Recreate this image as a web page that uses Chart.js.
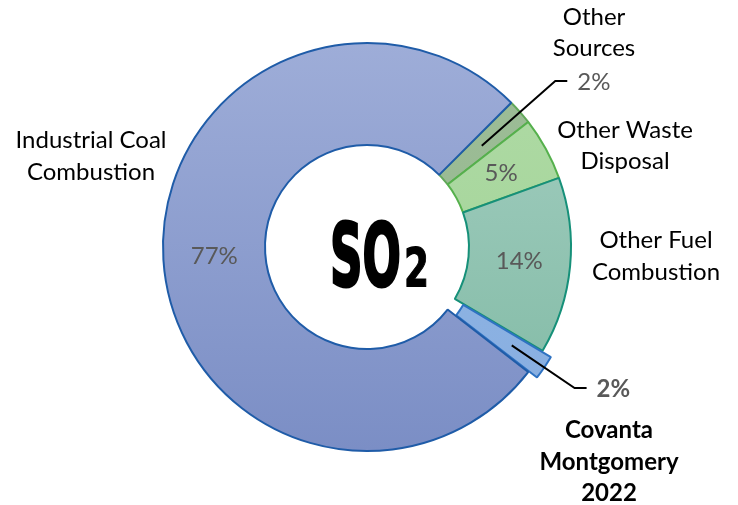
<!DOCTYPE html>
<html>
<head>
<meta charset="utf-8">
<script src="https://cdn.jsdelivr.net/npm/chart.js@4.4.1/dist/chart.umd.min.js"></script>
<style>
  html, body { margin: 0; padding: 0; background: #fff; }
</style>
</head>
<body>
<canvas id="so2Chart" width="738" height="505"></canvas>
<script>
const categories = ["Other Sources", "Other Waste Disposal", "Other Fuel Combustion", "Covanta Montgomery 2022", "Industrial Coal Combustion"]
const shares = [2, 5, 14, 2, 77]
const labelLines = [["Other", "Sources"], ["Other Waste", "Disposal"], ["Other Fuel", "Combustion"], ["Covanta", "Montgomery", "2022"], ["Industrial Coal", "Combustion"]]
const explode = [0, 0, 0, 22, 0]

const RADIUS = 204
const LABEL_FONT = "Lato, 'Open Sans', sans-serif"

// gradient fills top -> bottom of the ring
const fills = [
  ["#9dbd97", "#94b78e"],
  ["#b0dba6", "#9ed193"],
  ["#a5cfc2", "#7fb9a3"],
  ["#95b9e6", "#86ade0"],
  ["#9eadd8", "#7b8ec5"],
]
const borders = ["#62a85a", "#55b04c", "#169079", "#2e72c2", "#1f5ca8"]

function ringGradient(context) {
  const chart = context.chart
  const area = chart.chartArea
  const pair = fills[context.dataIndex]
  if (!area) return pair[0]
  const cy = (area.top + area.bottom) / 2
  const g = chart.ctx.createLinearGradient(0, cy - RADIUS, 0, cy + RADIUS)
  g.addColorStop(0, pair[0])
  g.addColorStop(1, pair[1])
  return g
}

// where each category name sits, relative to the ring centre
const namePlacement = [
  { dx: 227, dy: [-230, -199], bold: false },
  { dx: 258, dy: [-117, -86], bold: false },
  { dx: 289, dy: [-7, 25], bold: false },
  { dx: 242, dy: [183, 215, 246], bold: true },
  { dx: -276, dy: [-107, -75], bold: false },
]
// small slices get their percent outside with a leader line
const leader = [true, false, false, true, false]

const labelsPlugin = {
  id: "doughnutLabels",
  afterDatasetsDraw(chart) {
    const ctx = chart.ctx
    const meta = chart.getDatasetMeta(0)
    const cx = meta.data[0].x
    const cy = meta.data[0].y

    ctx.save()
    meta.data.forEach((arc, i) => {
      const { startAngle, endAngle, innerRadius, outerRadius } = arc.getProps(["startAngle", "endAngle", "innerRadius", "outerRadius"], true)
      const mid = (startAngle + endAngle) / 2
      const off = explode[i]
      const pct = shares[i] + "%"

      if (leader[i]) {
        const r0 = (innerRadius + outerRadius) / 2 + off
        const r1 = outerRadius + 47
        const x0 = cx + Math.cos(mid) * r0
        const y0 = cy + Math.sin(mid) * r0
        const x1 = cx + Math.cos(mid) * r1
        const y1 = cy + Math.sin(mid) * r1
        ctx.strokeStyle = "#000"
        ctx.lineWidth = 2
        ctx.beginPath()
        ctx.moveTo(x0, y0)
        ctx.lineTo(x1, y1)
        ctx.lineTo(x1 + 12, y1)
        ctx.stroke()
        ctx.fillStyle = "#595959"
        ctx.font = (namePlacement[i].bold ? "bold " : "") + "24px " + LABEL_FONT
        ctx.textAlign = "left"
        ctx.textBaseline = "middle"
        ctx.fillText(pct, x1 + 22, y1 + 1)
      } else {
        const p = arc.tooltipPosition()
        ctx.fillStyle = "#595959"
        ctx.font = "24px " + LABEL_FONT
        ctx.textAlign = "center"
        ctx.textBaseline = "middle"
        ctx.fillText(pct, p.x, p.y)
      }

      const np = namePlacement[i]
      ctx.fillStyle = "#000"
      ctx.font = (np.bold ? "bold " : "") + "24px " + LABEL_FONT
      ctx.textAlign = "center"
      ctx.textBaseline = "middle"
      labelLines[i].forEach((line, k) => {
        ctx.fillText(line, cx + np.dx, cy + np.dy[k])
      })
    })

    // centre title: SO2 in a tall condensed bold face
    ctx.fillStyle = "#000"
    ctx.strokeStyle = "#000"
    ctx.lineJoin = "miter"
    ctx.textAlign = "left"
    ctx.textBaseline = "alphabetic"
    ctx.font = "bold 87px 'DejaVu Sans'"
    let w = ctx.measureText("SO").width
    ctx.save()
    ctx.translate(cx - 37, cy + 39)
    ctx.scale(71 / w, 1)
    ctx.lineWidth = 3
    ctx.fillText("SO", 0, 0)
    ctx.strokeText("SO", 0, 0)
    ctx.restore()
    ctx.font = "bold 54px 'DejaVu Sans'"
    w = ctx.measureText("2").width
    ctx.save()
    ctx.translate(cx + 37, cy + 39)
    ctx.scale(25 / w, 1)
    ctx.lineWidth = 1.2
    ctx.fillText("2", 0, 0)
    ctx.strokeText("2", 0, 0)
    ctx.restore()

    ctx.restore()
  },
}

new Chart(document.getElementById("so2Chart"), {
  type: "doughnut",
  data: {
    labels: categories,
    datasets: [
      {
        data: shares,
        backgroundColor: ringGradient,
        borderColor: borders,
        borderWidth: 2,
        offset: explode,
      },
    ],
  },
  options: {
    responsive: false,
    animation: false,
    rotation: 45,
    cutout: "50%",
    radius: RADIUS,
    layout: {
      padding: { top: 20, bottom: 31, left: 100, right: 104 },
    },
    plugins: {
      legend: { display: false },
      tooltip: { enabled: false },
    },
  },
  plugins: [labelsPlugin],
})
</script>
</body>
</html>
